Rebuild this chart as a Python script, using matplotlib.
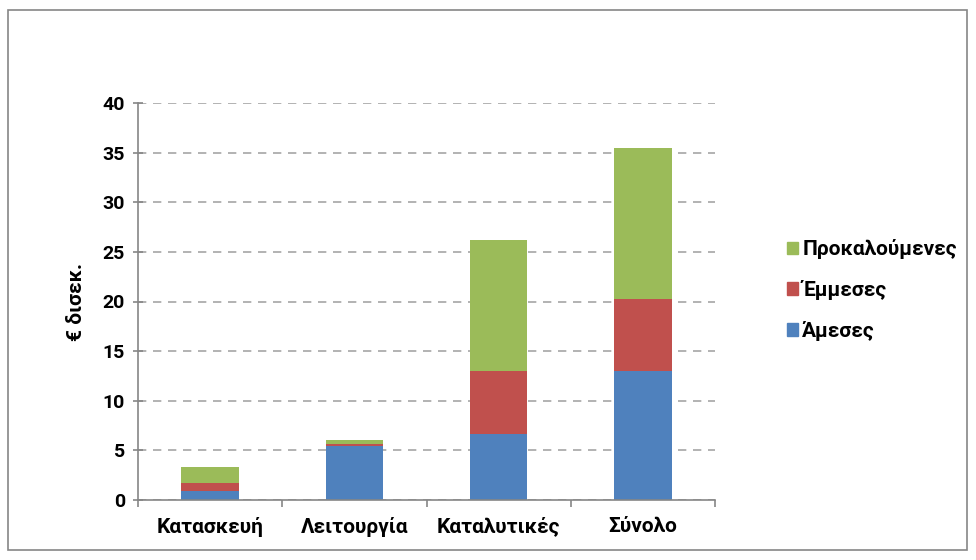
import matplotlib.pyplot as plt
import numpy as np
from matplotlib.patches import Rectangle, Patch

plt.rcParams['font.family'] = ['Roboto', 'DejaVu Sans']
plt.rcParams['font.weight'] = 'bold'

# --- 数据 ---
categories = ['Κατασκευή', 'Λειτουργία', 'Καταλυτικές', 'Σύνολο']
direct = [0.9, 5.45, 6.6, 12.95]        # Άμεσες
indirect = [0.8, 0.15, 6.4, 7.35]       # Έμμεσες
induced = [1.6, 0.4, 13.2, 15.2]        # Προκαλούμενες
series_names = ['Άμεσες', 'Έμμεσες', 'Προκαλούμενες']
colors = ['#4F81BD', '#C0504D', '#9BBB59']

FS = 15
FS_TICK = 14

fig = plt.figure(figsize=(9.76, 5.6), dpi=100)
ax = fig.add_axes([138 / 976, 60 / 560, 577 / 976, 397 / 560])

# 外框
fig.patches.append(Rectangle((8 / 976, 10 / 560), 959 / 976, 540 / 560,
                             transform=fig.transFigure, fill=False,
                             edgecolor='#868686', linewidth=1.2))

x = np.arange(len(categories))
bottom = np.zeros(len(categories))
for vals, col in zip([direct, indirect, induced], colors):
    ax.bar(x, vals, width=0.4, bottom=bottom, color=col, zorder=3)
    bottom += np.array(vals)

ax.set_xlim(-0.5, len(categories) - 0.5)
ax.set_ylim(0, 40)
ax.set_yticks(np.arange(0, 41, 5))
ax.set_xticks(x)
ax.set_xticklabels(categories, fontsize=FS, fontweight='bold')
ax.set_xticks(np.arange(-0.5, len(categories)), minor=True)
ax.tick_params(axis='x', which='major', length=0, pad=12)
ax.tick_params(axis='x', which='minor', length=5, color='#868686', width=1.2)
ax.tick_params(axis='y', labelsize=FS_TICK, length=7, direction='inout',
               color='#868686', width=1.2, pad=6)
for lbl in ax.get_yticklabels():
    lbl.set_fontweight('bold')

ax.grid(axis='y', linestyle=(0, (5, 4)), color='#A6A6A6', linewidth=1.2, zorder=0)
for s in ['top', 'right']:
    ax.spines[s].set_visible(False)
for s in ['left', 'bottom']:
    ax.spines[s].set_color('#868686')
    ax.spines[s].set_linewidth(1.2)
ax.spines['bottom'].set_zorder(4)

ax.set_ylabel('€ δισεκ.', fontsize=FS, fontweight='bold', labelpad=12)

handles = [Patch(color=c) for c in colors[::-1]]
fig.legend(handles, series_names[::-1], loc='center left',
           bbox_to_anchor=(768 / 976, 1 - 290 / 560), frameon=False,
           prop={'size': FS, 'weight': 'bold'}, handlelength=0.55,
           handleheight=0.55, handletextpad=0.2, labelspacing=1.0)

fig.savefig('out.png', dpi=100)
